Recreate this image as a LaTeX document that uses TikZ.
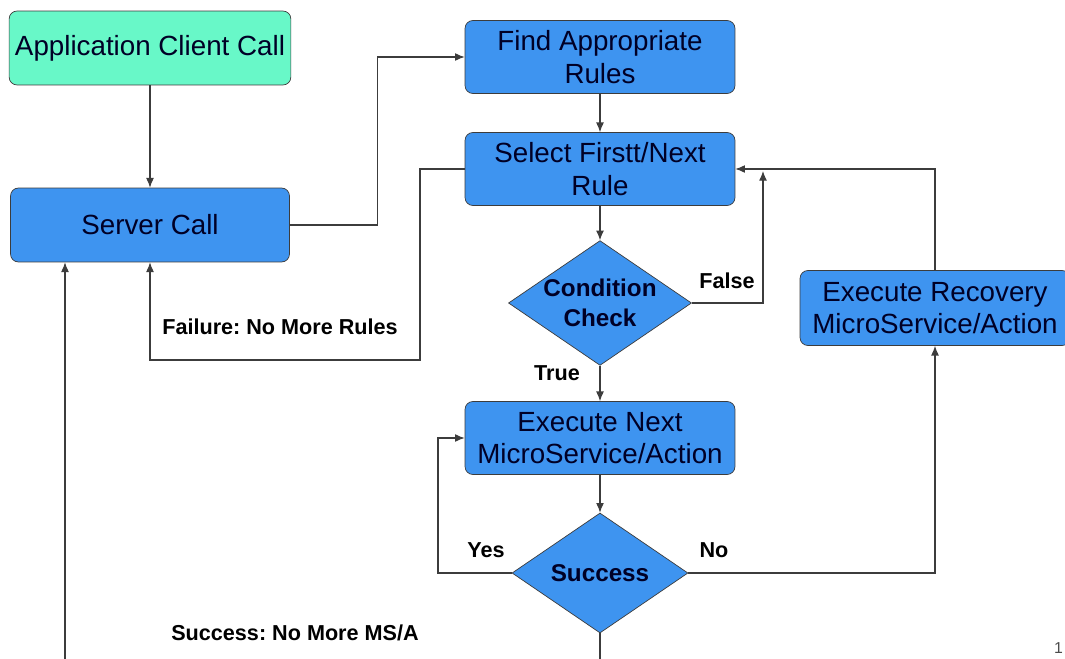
\documentclass[tikz,border=0pt]{standalone}
\usepackage{fontspec}
\setmainfont{Liberation Sans}
\usetikzlibrary{shapes.geometric,arrows.meta}
\definecolor{clientgreen}{RGB}{104,248,200}
\definecolor{boxblue}{RGB}{62,148,240}
\definecolor{edgegray}{RGB}{60,60,60}
\tikzset{
  stepbox/.style={rectangle,rounded corners=4.5pt,draw=edgegray,fill=boxblue,
    minimum width=5.4cm,minimum height=1.46cm,align=center,
    font=\fontsize{15.8}{18.5}\selectfont,text=black!85!blue},
  testbox/.style={diamond,draw=edgegray,fill=boxblue,aspect=1.467,
    minimum width=3.52cm,minimum height=2.4cm,inner sep=0pt,align=center,
    font=\bfseries\fontsize{13.8}{17}\selectfont,text=black!85!blue},
  arr/.style={draw=edgegray,line width=0.6pt,-{Latex[length=5.5pt,width=4.5pt]}},
  line/.style={draw=edgegray,line width=0.6pt},
  tag/.style={font=\bfseries\fontsize{12.3}{14}\selectfont}
}
\frenchspacing
\begin{document}
\begin{tikzpicture}[x=0.02cm,y=-0.02cm]
\useasboundingbox (0,0) rectangle (1065,659);
\clip (0,0) rectangle (1065,659);
% boxes
\node [stepbox,fill=clientgreen,minimum width=5.58cm,minimum height=1.48cm] (client) at (150,48) {Application Client Call};
\node [stepbox,minimum width=5.58cm,minimum height=1.48cm] (server) at (150,225) {Server Call};
\node [stepbox] (find) at (600,57) {Find Appropriate\\Rules};
\node [stepbox] (select) at (600,169) {Select Firstt/Next\\Rule};
\node [testbox] (cond) at (600,303) {Condition\\Check};
\node [stepbox] (exec) at (600,438) {Execute Next\\MicroService/Action};
\node [testbox] (succ) at (600,573) {Success};
\node [stepbox,minimum height=1.5cm] (recov) at (935,308) {Execute Recovery\\MicroService/Action};
% free ends
\coordinate (falseend) at (763,171);
\coordinate (bottomout) at (600,665);
\coordinate (leftin) at (65,665);
% connectors
\draw [arr] (client) -- (server);
\draw [arr] (server.east) -- ++(88,0) |- (find.west);
\draw [arr] (find) -- (select);
\draw [arr] (select.west) -| (420,360) -| (server.south);
\draw [arr] (select) -- (cond);
\draw [arr] (cond.east) -| (falseend);
\draw [arr] (cond) -- (exec);
\draw [arr] (exec) -- (succ);
\draw [arr] (succ.west) -- (438,573) |- (exec.west);
\draw [arr] (succ.east) -| (recov.south);
\draw [arr] (recov.north) |- (select.east);
\draw [line] (succ.south) -- (bottomout);
\draw [arr] (leftin) -- (leftin |- server.south);
% labels
\node [tag] (failtag) at (280,327) {Failure: No More Rules};
\node [tag] (falsetag) at (727,281) {False};
\node [tag] (truetag) at (557,373) {True};
\node [tag] (yestag) at (486,550) {Yes};
\node [tag] (notag) at (714,550) {No};
\node [tag] (donetag) at (295,633) {Success: No More MS/A};
\node [font=\fontsize{9}{10}\selectfont,text=black!70,anchor=east,inner sep=1pt] (pagenum) at (1065,648) {1};
\end{tikzpicture}
\end{document}
